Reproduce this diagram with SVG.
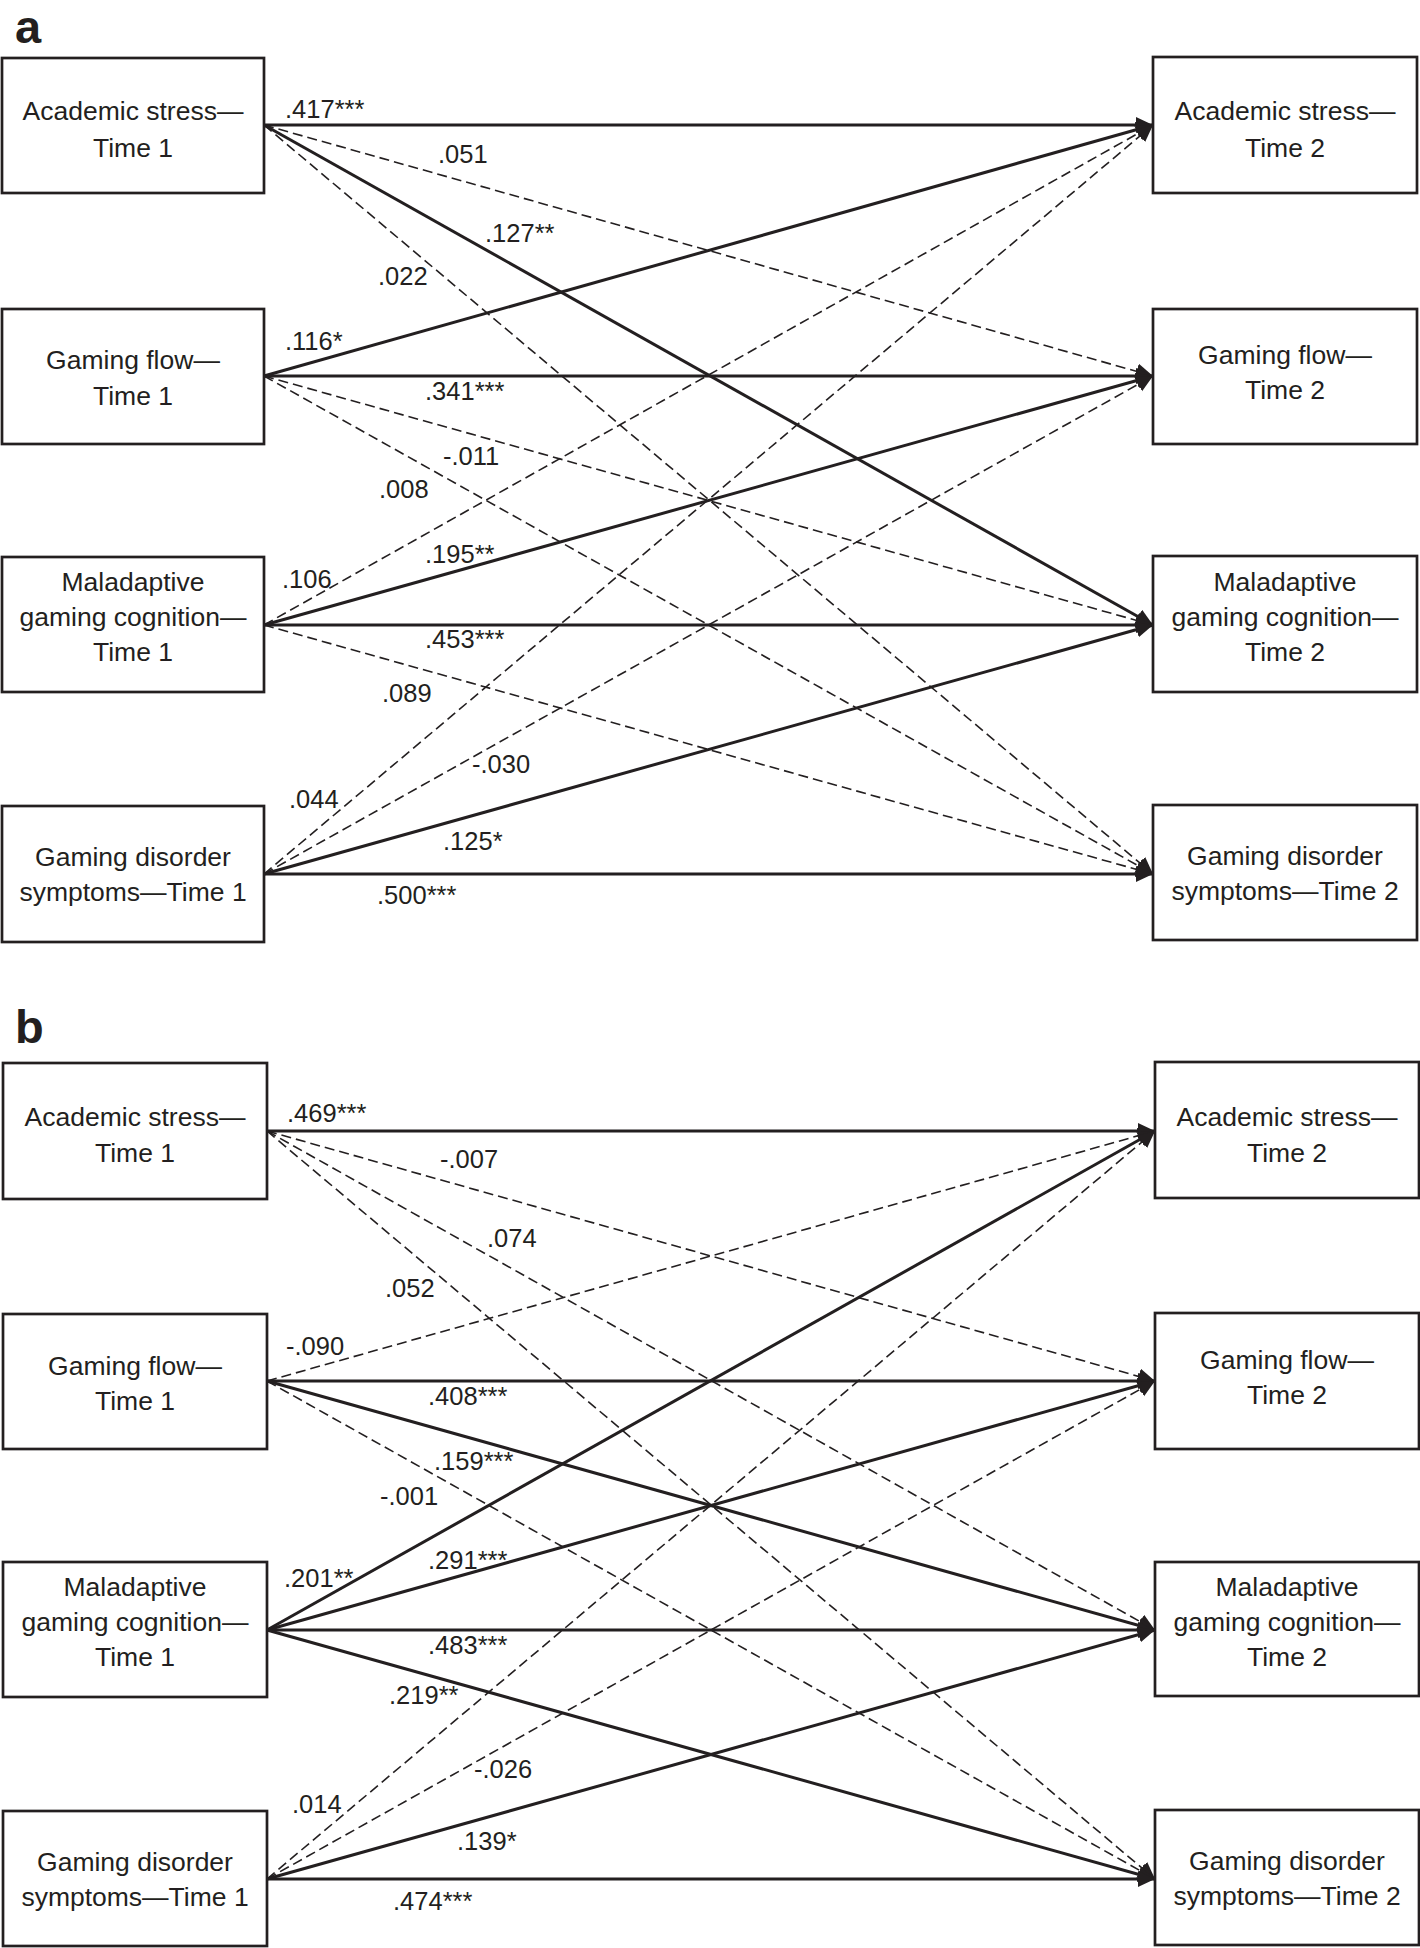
<svg xmlns="http://www.w3.org/2000/svg" width="1420" height="1948" viewBox="0 0 1420 1948">
<style>
.bg{fill:#fff}
.box{fill:#fff;stroke:#231f20;stroke-width:2.7}
.nt{font-family:"Liberation Sans",Arial,sans-serif;font-size:26.5px;fill:#231f20;text-anchor:middle}
.lbl{font-family:"Liberation Sans",Arial,sans-serif;font-size:25.5px;fill:#231f20}
.ttl{font-family:"Liberation Sans",Arial,sans-serif;font-size:47px;font-weight:bold;fill:#231f20}
.s{stroke:#231f20;stroke-width:3;fill:none;marker-end:url(#ah)}
.d{stroke:#231f20;stroke-width:1.6;stroke-dasharray:10 5;fill:none;marker-end:url(#ah)}
</style>
<defs>
<marker id="ah" markerUnits="userSpaceOnUse" markerWidth="20" markerHeight="18" refX="17" refY="8" orient="auto">
<path d="M0,0 L17,8 L0,16 z" fill="#231f20"/>
</marker>
</defs>
<rect class="bg" x="0" y="0" width="1420" height="1948"/>
<text class="ttl" x="15" y="43">a</text>
<text class="ttl" x="15" y="1043">b</text>

<g id="connectors-a">
<line class="s" x1="264" y1="125" x2="1153" y2="125"/>
<line class="d" x1="264" y1="125" x2="1153" y2="376"/>
<line class="s" x1="264" y1="125" x2="1153" y2="625"/>
<line class="d" x1="264" y1="125" x2="1153" y2="874"/>
<line class="s" x1="264" y1="376" x2="1153" y2="125"/>
<line class="s" x1="264" y1="376" x2="1153" y2="376"/>
<line class="d" x1="264" y1="376" x2="1153" y2="625"/>
<line class="d" x1="264" y1="376" x2="1153" y2="874"/>
<line class="d" x1="264" y1="625" x2="1153" y2="125"/>
<line class="s" x1="264" y1="625" x2="1153" y2="376"/>
<line class="s" x1="264" y1="625" x2="1153" y2="625"/>
<line class="d" x1="264" y1="625" x2="1153" y2="874"/>
<line class="d" x1="264" y1="874" x2="1153" y2="125"/>
<line class="d" x1="264" y1="874" x2="1153" y2="376"/>
<line class="s" x1="264" y1="874" x2="1153" y2="625"/>
<line class="s" x1="264" y1="874" x2="1153" y2="874"/>
</g>
<g id="labels-a">
<text class="lbl" x="285" y="118">.417***</text>
<text class="lbl" x="438" y="163">.051</text>
<text class="lbl" x="485" y="242">.127**</text>
<text class="lbl" x="378" y="285">.022</text>
<text class="lbl" x="285" y="350">.116*</text>
<text class="lbl" x="425" y="400">.341***</text>
<text class="lbl" x="443" y="465">-.011</text>
<text class="lbl" x="379" y="498">.008</text>
<text class="lbl" x="282" y="588">.106</text>
<text class="lbl" x="425" y="563">.195**</text>
<text class="lbl" x="425" y="648">.453***</text>
<text class="lbl" x="382" y="702">.089</text>
<text class="lbl" x="289" y="808">.044</text>
<text class="lbl" x="472" y="773">-.030</text>
<text class="lbl" x="443" y="850">.125*</text>
<text class="lbl" x="377" y="904">.500***</text>
</g>

<g id="connectors-b">
<line class="s" x1="267" y1="1131" x2="1155" y2="1131"/>
<line class="d" x1="267" y1="1131" x2="1155" y2="1381"/>
<line class="d" x1="267" y1="1131" x2="1155" y2="1630"/>
<line class="d" x1="267" y1="1131" x2="1155" y2="1879"/>
<line class="d" x1="267" y1="1381" x2="1155" y2="1131"/>
<line class="s" x1="267" y1="1381" x2="1155" y2="1381"/>
<line class="s" x1="267" y1="1381" x2="1155" y2="1630"/>
<line class="d" x1="267" y1="1381" x2="1155" y2="1879"/>
<line class="s" x1="267" y1="1630" x2="1155" y2="1131"/>
<line class="s" x1="267" y1="1630" x2="1155" y2="1381"/>
<line class="s" x1="267" y1="1630" x2="1155" y2="1630"/>
<line class="s" x1="267" y1="1630" x2="1155" y2="1879"/>
<line class="d" x1="267" y1="1879" x2="1155" y2="1131"/>
<line class="d" x1="267" y1="1879" x2="1155" y2="1381"/>
<line class="s" x1="267" y1="1879" x2="1155" y2="1630"/>
<line class="s" x1="267" y1="1879" x2="1155" y2="1879"/>
</g>
<g id="labels-b">
<text class="lbl" x="287" y="1122">.469***</text>
<text class="lbl" x="440" y="1168">-.007</text>
<text class="lbl" x="487" y="1247">.074</text>
<text class="lbl" x="385" y="1297">.052</text>
<text class="lbl" x="286" y="1355">-.090</text>
<text class="lbl" x="428" y="1405">.408***</text>
<text class="lbl" x="434" y="1470">.159***</text>
<text class="lbl" x="380" y="1505">-.001</text>
<text class="lbl" x="284" y="1587">.201**</text>
<text class="lbl" x="428" y="1569">.291***</text>
<text class="lbl" x="428" y="1654">.483***</text>
<text class="lbl" x="389" y="1704">.219**</text>
<text class="lbl" x="292" y="1813">.014</text>
<text class="lbl" x="474" y="1778">-.026</text>
<text class="lbl" x="457" y="1850">.139*</text>
<text class="lbl" x="393" y="1910">.474***</text>
</g>

<g id="a-as1"><rect class="box" x="2" y="58" width="262" height="135"/><text class="nt" x="133" y="120">Academic stress—</text><text class="nt" x="133" y="157">Time 1</text></g>
<g id="a-gf1"><rect class="box" x="2" y="309" width="262" height="135"/><text class="nt" x="133" y="369">Gaming flow—</text><text class="nt" x="133" y="405">Time 1</text></g>
<g id="a-mgc1"><rect class="box" x="2" y="557" width="262" height="135"/><text class="nt" x="133" y="591">Maladaptive</text><text class="nt" x="133" y="626">gaming cognition—</text><text class="nt" x="133" y="661">Time 1</text></g>
<g id="a-gd1"><rect class="box" x="2" y="806" width="262" height="136"/><text class="nt" x="133" y="866">Gaming disorder</text><text class="nt" x="133" y="901">symptoms—Time 1</text></g>

<g id="a-as2"><rect class="box" x="1153" y="57" width="264" height="136"/><text class="nt" x="1285" y="120">Academic stress—</text><text class="nt" x="1285" y="157">Time 2</text></g>
<g id="a-gf2"><rect class="box" x="1153" y="309" width="264" height="135"/><text class="nt" x="1285" y="364">Gaming flow—</text><text class="nt" x="1285" y="399">Time 2</text></g>
<g id="a-mgc2"><rect class="box" x="1153" y="556" width="264" height="136"/><text class="nt" x="1285" y="591">Maladaptive</text><text class="nt" x="1285" y="626">gaming cognition—</text><text class="nt" x="1285" y="661">Time 2</text></g>
<g id="a-gd2"><rect class="box" x="1153" y="805" width="264" height="135"/><text class="nt" x="1285" y="865">Gaming disorder</text><text class="nt" x="1285" y="900">symptoms—Time 2</text></g>

<g id="b-as1"><rect class="box" x="3" y="1063" width="264" height="136"/><text class="nt" x="135" y="1126">Academic stress—</text><text class="nt" x="135" y="1162">Time 1</text></g>
<g id="b-gf1"><rect class="box" x="3" y="1314" width="264" height="135"/><text class="nt" x="135" y="1375">Gaming flow—</text><text class="nt" x="135" y="1410">Time 1</text></g>
<g id="b-mgc1"><rect class="box" x="3" y="1562" width="264" height="135"/><text class="nt" x="135" y="1596">Maladaptive</text><text class="nt" x="135" y="1631">gaming cognition—</text><text class="nt" x="135" y="1666">Time 1</text></g>
<g id="b-gd1"><rect class="box" x="3" y="1811" width="264" height="135"/><text class="nt" x="135" y="1871">Gaming disorder</text><text class="nt" x="135" y="1906">symptoms—Time 1</text></g>

<g id="b-as2"><rect class="box" x="1155" y="1062" width="264" height="136"/><text class="nt" x="1287" y="1126">Academic stress—</text><text class="nt" x="1287" y="1162">Time 2</text></g>
<g id="b-gf2"><rect class="box" x="1155" y="1313" width="264" height="136"/><text class="nt" x="1287" y="1369">Gaming flow—</text><text class="nt" x="1287" y="1404">Time 2</text></g>
<g id="b-mgc2"><rect class="box" x="1155" y="1562" width="264" height="134"/><text class="nt" x="1287" y="1596">Maladaptive</text><text class="nt" x="1287" y="1631">gaming cognition—</text><text class="nt" x="1287" y="1666">Time 2</text></g>
<g id="b-gd2"><rect class="box" x="1155" y="1810" width="264" height="135"/><text class="nt" x="1287" y="1870">Gaming disorder</text><text class="nt" x="1287" y="1905">symptoms—Time 2</text></g>
</svg>
